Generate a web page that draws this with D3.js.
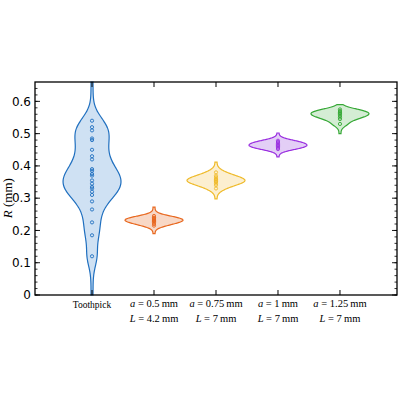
<!DOCTYPE html>
<html><head><meta charset="utf-8">
<script src="https://cdn.jsdelivr.net/npm/d3@7"></script>
<style>body{margin:0;background:#fff}</style>
</head><body><div id="chart"></div>
<script>
// data
const groups = ["toothpick", "a05", "a075", "a1", "a125"];
const labelA = ["Toothpick", "0.5", "0.75", "1", "1.25"];
const labelL = ["", "4.2", "7", "7", "7"];
const toothpick = [0.54,0.52,0.51,0.485,0.48,0.45,0.43,0.42,0.39,0.385,0.375,0.37,0.355,0.345,0.335,0.33,0.32,0.31,0.29,0.265,0.225,0.185,0.12];
const a05 = [0.215,0.22,0.225,0.228,0.23,0.232,0.235,0.238,0.24,0.245];
const a075 = [0.33,0.34,0.345,0.35,0.352,0.355,0.358,0.36,0.365,0.37,0.38];
const a1 = [0.452,0.456,0.46,0.463,0.466,0.47,0.474,0.478];
const a125 = [0.53,0.545,0.55,0.555,0.56,0.563,0.566,0.57,0.575];
const values = [toothpick, a05, a075, a1, a125];
const extents = [[0, 0.66], [0.19, 0.272], [0.298, 0.412], [0.428, 0.502], [0.5, 0.59]];
const bandwidths = [0.032, 0.008, 0.011, 0.008, 0.009];
const strokes = ["#1f6fbf", "#e8671e", "#efbb2c", "#9a2fe0", "#36a836"];
const fills = ["#cfe1f3", "#f8d8c6", "#fcefd0", "#e3cef6", "#d4edd4"];

const width = 400, height = 400;
const m = {left: 35, right: 3, top: 82, bottom: 105};
const maxHalf = 28;

const svg = d3.select("#chart").append("svg")
  .attr("width", width).attr("height", height);

const x = d3.scalePoint().domain(groups)
  .range([m.left, width - m.right]).padding(0.92);
const y = d3.scaleLinear().domain([0, 0.66]).range([height - m.bottom, m.top]);

// kde with gaussian kernel, plus a small floor so tails stay visible
function kde(vals, bw, ext) {
  const ys = d3.range(ext[0], ext[1] + 1e-9, (ext[1] - ext[0]) / 120);
  return ys.map(v => [v, d3.sum(vals, d => Math.exp(-0.5 * ((v - d) / bw) ** 2))]);
}

groups.forEach((g, i) => {
  const dens = kde(values[i], bandwidths[i], extents[i]);
  const w = d3.scaleLinear().domain([0, d3.max(dens, d => d[1])]).range([0, maxHalf]);
  const area = d3.area()
    .x0(d => x(g) - w(d[1]) - 1).x1(d => x(g) + w(d[1]) + 1)
    .y(d => y(d[0])).curve(d3.curveBasis);
  svg.append("path").datum(dens).attr("d", area)
    .attr("fill", fills[i]).attr("stroke", strokes[i]).attr("stroke-width", 1.2);
  svg.append("g").selectAll("circle").data(values[i]).join("circle")
    .attr("cx", x(g)).attr("cy", d => y(d)).attr("r", 1.6)
    .attr("fill", "none").attr("stroke", strokes[i]).attr("stroke-width", 0.9);
});

// frame and ticks
const fx0 = m.left, fx1 = width - m.right, fy0 = m.top, fy1 = height - m.bottom;
svg.append("rect").attr("x", fx0).attr("y", fy0)
  .attr("width", fx1 - fx0).attr("height", fy1 - fy0)
  .attr("fill", "none").attr("stroke", "#000").attr("stroke-width", 1.3);

const major = d3.range(0, 0.61, 0.1);
const minor = d3.range(0, 0.66, 0.02);
[[fx0, 1], [fx1, -1]].forEach(([px, s]) => {
  svg.append("g").selectAll("line").data(minor).join("line")
    .attr("x1", px).attr("x2", px + s * 2.5).attr("y1", d => y(d)).attr("y2", d => y(d))
    .attr("stroke", "#000").attr("stroke-width", 0.8);
  svg.append("g").selectAll("line").data(major).join("line")
    .attr("x1", px).attr("x2", px + s * 5).attr("y1", d => y(d)).attr("y2", d => y(d))
    .attr("stroke", "#000").attr("stroke-width", 0.9);
});
svg.append("g").selectAll("line").data(groups).join("line")
  .attr("x1", d => x(d)).attr("x2", d => x(d)).attr("y1", fy0).attr("y2", fy0 + 5)
  .attr("stroke", "#000");
svg.append("g").selectAll("line").data(groups).join("line")
  .attr("x1", d => x(d)).attr("x2", d => x(d)).attr("y1", fy1).attr("y2", fy1 - 5)
  .attr("stroke", "#000");

svg.append("g").selectAll("text").data(major).join("text")
  .attr("x", fx0 - 4).attr("y", d => y(d)).attr("dy", "0.35em")
  .attr("text-anchor", "end").attr("font-family", "DejaVu Sans").attr("font-size", 12)
  .text(d => d3.format(".1~f")(d));

svg.append("text")
  .attr("transform", `translate(12,${y(0.3)}) rotate(-90)`)
  .attr("text-anchor", "middle").attr("font-family", "Liberation Serif").attr("font-size", 13)
  .html('<tspan font-style="italic">R</tspan> (mm)');

const lab = svg.append("g").attr("font-family", "Liberation Serif").attr("font-size", 10.5)
  .attr("text-anchor", "middle");
groups.forEach((g, i) => {
  if (i === 0) {
    lab.append("text").attr("x", x(g)).attr("y", fy1 + 13).attr("font-size", 9.5).text(labelA[i]);
    return;
  }
  lab.append("text").attr("x", x(g)).attr("y", fy1 + 12)
    .html(`<tspan font-style="italic">a</tspan> = ${labelA[i]}\u2009mm`);
  lab.append("text").attr("x", x(g)).attr("y", fy1 + 27)
    .html(`<tspan font-style="italic">L</tspan> = ${labelL[i]}\u2009mm`);
});
</script></body></html>
